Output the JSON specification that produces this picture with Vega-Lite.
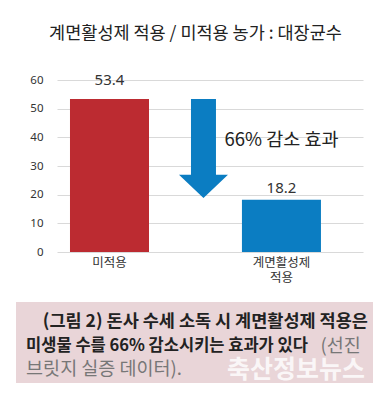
{
  "$schema": "https://vega.github.io/schema/vega-lite/v6.json",
  "background": "white",
  "padding": {"left": 16, "top": 25, "right": 5, "bottom": 5},
  "spacing": 18,
  "config": {
    "font": "Noto Sans CJK KR",
    "view": {"stroke": null}
  },
  "vconcat": [
    {
      "width": 347,
      "height": 172,
      "title": {
        "text": "계면활성제 적용 / 미적용 농가 : 대장균수",
        "fontSize": 17.5,
        "fontWeight": "normal",
        "color": "#222222",
        "anchor": "middle",
        "offset": 30,
        "dx": 6
      },
      "encoding": {
        "x": {
          "field": "구분", "type": "nominal",
          "scale": {"domain": ["미적용", "감소", "계면활성제 적용"], "range": [41, 347], "paddingInner": 0.081, "paddingOuter": 0.32, "align": 0.236},
          "axis": {
            "title": null, "labelAngle": 0, "domain": false, "ticks": false,
            "labelExpr": "datum.value == '감소' ? '' : split(datum.value, ' ')",
            "labelFontSize": 12.5, "labelColor": "#333333", "labelPadding": 4, "labelLineHeight": 15
          }
        },
        "y": {
          "field": "대장균수", "type": "quantitative",
          "scale": {"domain": [0, 60], "nice": false},
          "axis": {
            "title": null, "values": [0, 10, 20, 30, 40, 50, 60], "domain": false, "ticks": false,
            "labelOverlap": false, "offset": -41,
            "labelFontSize": 11.5, "labelColor": "#333333", "labelPadding": 14,
            "gridColor": "#d9d9d9", "labelFont": "Noto Sans"
          }
        }
      },
      "layer": [
        {
          "data": {"values": [
            {"구분": "미적용", "대장균수": 53.4},
            {"구분": "계면활성제 적용", "대장균수": 18.2}
          ]},
          "mark": {"type": "bar"},
          "encoding": {
            "color": {
              "field": "구분", "type": "nominal",
              "scale": {"domain": ["미적용", "계면활성제 적용"], "range": ["#bc2b31", "#0b7dc2"]},
              "legend": null
            }
          }
        },
        {
          "data": {"values": [
            {"구분": "미적용", "대장균수": 53.4}
          ]},
          "mark": {"type": "text", "fontSize": 15, "color": "#333333", "dy": -19, "baseline": "middle", "font": "Noto Sans"},
          "encoding": {
            "text": {"field": "대장균수", "type": "quantitative", "format": ".1f"}
          }
        },
        {
          "data": {"values": [
            {"구분": "계면활성제 적용", "대장균수": 18.2}
          ]},
          "mark": {"type": "text", "fontSize": 15, "color": "#333333", "dy": -12, "baseline": "middle", "font": "Noto Sans"},
          "encoding": {
            "text": {"field": "대장균수", "type": "quantitative", "format": ".1f"}
          }
        },
        {
          "data": {"values": [
            {"구분": "감소", "대장균수": 53.4}
          ]},
          "mark": {
            "type": "point", "filled": true, "opacity": 1, "strokeWidth": 0,
            "color": "#0b7dc2", "size": 2401, "xOffset": 8,
            "shape": "M-0.51,0L0.51,0L0.51,3.1L1,3.1L0,4.04L-1,3.1L-0.51,3.1Z"
          }
        },
        {
          "data": {"values": [
            {"구분": "계면활성제 적용", "대장균수": 39, "설명": "66% 감소 효과"}
          ]},
          "mark": {"type": "text", "fontSize": 18.5, "color": "#222222", "baseline": "middle", "align": "center"},
          "encoding": {
            "text": {"field": "설명"}
          }
        }
      ]
    },
    {
      "width": 357,
      "height": 81,
      "view": {"fill": "#e9d5d8", "stroke": null},
      "data": {"values": [
        {"줄": 1, "쪽": "끝", "내용": "(그림 2) 돈사 수세 소독 시 계면활성제 적용은", "종류": "본문"},
        {"줄": 2, "쪽": "시작", "내용": "미생물 수를 66% 감소시키는 효과가 있다", "종류": "본문"},
        {"줄": 2, "쪽": "끝", "내용": "(선진", "종류": "출처"},
        {"줄": 3, "쪽": "시작", "내용": "브릿지 실증 데이터).", "종류": "출처"},
        {"줄": 3, "쪽": "끝", "내용": "축산정보뉴스", "종류": "워터마크"}
      ]},
      "encoding": {
        "x": {"field": "쪽", "type": "nominal", "scale": {"type": "point", "domain": ["시작", "끝"], "padding": 0.03}, "axis": null},
        "y": {"field": "줄", "type": "ordinal", "scale": {"type": "point", "domain": [1, 2, 3], "padding": 0.72, "align": 0.59}, "axis": null},
        "text": {"field": "내용"}
      },
      "layer": [
        {
          "transform": [{"filter": "datum['종류'] == '본문' && datum['쪽'] == '시작'"}],
          "mark": {"type": "text", "align": "left", "baseline": "middle", "fontSize": 16.5, "fontWeight": "bold", "color": "#222222"}
        },
        {
          "transform": [{"filter": "datum['종류'] == '본문' && datum['쪽'] == '끝'"}],
          "mark": {"type": "text", "align": "right", "baseline": "middle", "fontSize": 17.5, "fontWeight": "bold", "color": "#222222", "dx": 5}
        },
        {
          "transform": [{"filter": "datum['종류'] == '출처' && datum['쪽'] == '시작'"}],
          "mark": {"type": "text", "align": "left", "baseline": "middle", "fontSize": 18.5, "color": "#777777"}
        },
        {
          "transform": [{"filter": "datum['종류'] == '출처' && datum['쪽'] == '끝'"}],
          "mark": {"type": "text", "align": "right", "baseline": "middle", "fontSize": 18.5, "color": "#777777", "dx": -2}
        },
        {
          "transform": [{"filter": "datum['종류'] == '워터마크'"}],
          "mark": {"type": "text", "align": "right", "baseline": "middle", "fontSize": 25, "fontWeight": "bold", "color": "#ffffff", "opacity": 0.8, "dx": 2, "dy": 1}
        }
      ]
    }
  ]
}
